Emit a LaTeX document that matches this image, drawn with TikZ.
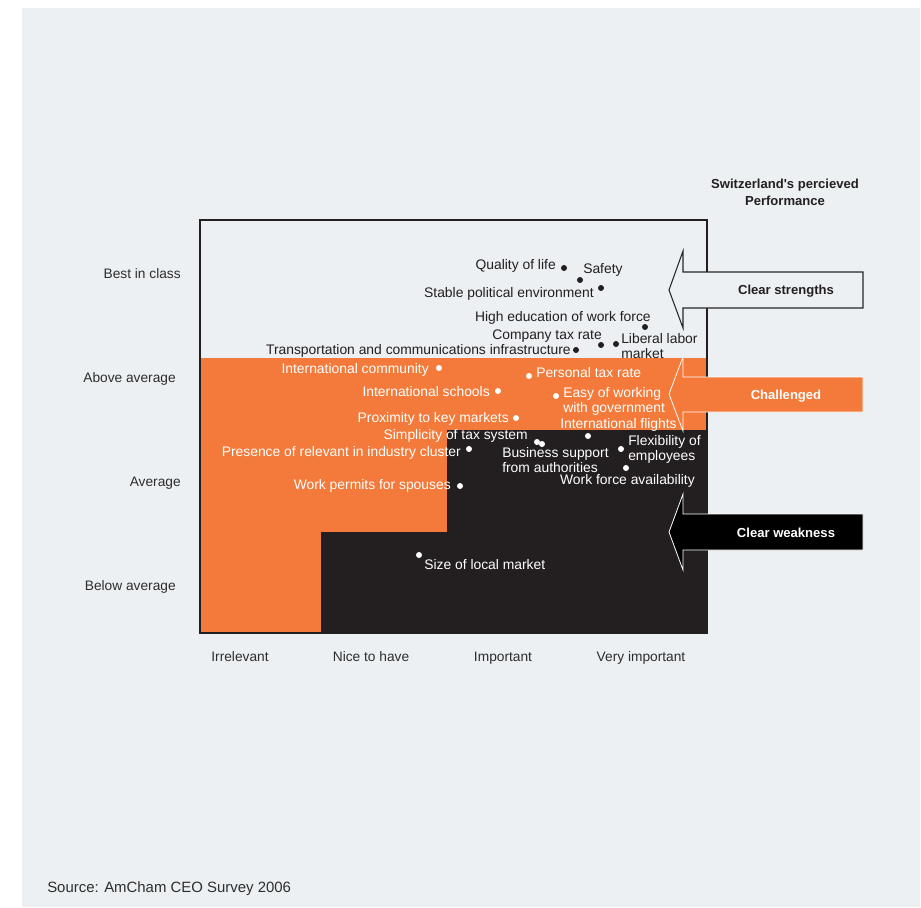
\documentclass[tikz,border=0pt]{standalone}
\usepackage{fontspec}
\setmainfont{Liberation Sans}[Ligatures=TeXOff]
\usetikzlibrary{positioning}
\definecolor{panelbg}{RGB}{236,240,243}
\definecolor{chorange}{RGB}{243,122,58}
\definecolor{chdark}{RGB}{35,31,32}
\definecolor{txtgray}{RGB}{45,45,45}

\begin{document}
\begin{tikzpicture}[
    x=0.75pt, y=-0.75pt,
    lbl/.style={inner sep=0pt, font=\fontsize{10.4}{10.9}\selectfont, text=chdark, align=left},
    wlbl/.style={lbl, text=white},
    darkdot/.style={circle, fill=chdark, inner sep=0pt, minimum size=4.5pt},
    whitedot/.style={circle, fill=white, inner sep=0pt, minimum size=4.5pt},
    axislbl/.style={inner sep=0pt, font=\fontsize{10.3}{12}\selectfont, text=txtgray},
    arrowlbl/.style={inner sep=0pt, font=\fontsize{9.8}{12.75}\selectfont\bfseries, align=center}
  ]
  % Page and panel
  \useasboundingbox (0,0) rectangle (921,907);
  \fill[white] (0,0) rectangle (921,907);
  \fill[panelbg] (22,8) rectangle (920,907);

  % Zones of the matrix
  \fill[chorange] (200,358) -- (707,358) -- (707,430) -- (447,430) -- (447,532)
    -- (321,532) -- (321,633) -- (200,633) -- cycle;
  \fill[chdark] (447,430) -- (707,430) -- (707,633) -- (321,633) -- (321,532)
    -- (447,532) -- cycle;
  \draw[chdark, line width=0.8pt] (200,220) rectangle (707,633);

  % Performance arrows
  \filldraw[fill=panelbg, draw=black!85, line width=0.8pt] (669,290) -- (683,251) -- (683,272)
    -- (863,272) -- (863,308) -- (683,308) -- (683,328) -- cycle;
  \filldraw[fill=chorange, draw=white, line width=0.6pt] (669,394) -- (683,357) -- (683,377)
    -- (863,377) -- (863,412) -- (683,412) -- (683,431) -- cycle;
  \filldraw[fill=black, draw=white, line width=0.6pt] (669,532) -- (683,494) -- (683,514)
    -- (863,514) -- (863,550) -- (683,550) -- (683,570) -- cycle;
  \node[arrowlbl, text=chdark] (strengths) at (786,291) {Clear strengths};
  \node[arrowlbl, text=white] (challenged) at (786,396) {Challenged};
  \node[arrowlbl, text=white] (weakness) at (786,533) {Clear weakness};
  \node[arrowlbl, text=chdark] (perftitle) at (785,192) {Switzerland's percieved\\Performance};

  % Axis labels
  \node[axislbl, anchor=base east] (best) at (181,278) {Best in class};
  \node[axislbl, anchor=base east] (above) at (176,382) {Above average};
  \node[axislbl, anchor=base east] (average) at (181,486) {Average};
  \node[axislbl, anchor=base east] (below) at (176,590) {Below average};
  \node[axislbl, anchor=base] (irrelevant) at (240,661) {Irrelevant};
  \node[axislbl, anchor=base] (nice) at (371,661) {Nice to have};
  \node[axislbl, anchor=base] (important) at (503,661) {Important};
  \node[axislbl, anchor=base] (veryimp) at (641,661) {Very important};

  % Clear strengths
  \node[darkdot] (quality) at (564,268) {};
  \node[lbl, anchor=base east] (qualitylbl) at (556,269.5) {Quality of life};
  \node[darkdot] (safety) at (580,280) {};
  \node[lbl, anchor=base west] (safetylbl) at (583,273.5) {Safety};
  \node[darkdot] (stable) at (601,288) {};
  \node[lbl, anchor=base east] (stablelbl) at (594,297) {Stable political environment};
  \node[darkdot] (education) at (645,327) {};
  \node[lbl, anchor=base east] (educationlbl) at (651,321.5) {High education of work force};
  \node[darkdot] (corptax) at (601,345) {};
  \node[lbl, anchor=base east] (corptaxlbl) at (602,339.5) {Company tax rate};
  \node[darkdot] (labor) at (616,344) {};
  \node[lbl, anchor=base west] (laborlbl) at (621,358.5) {Liberal labor\\market};
  \node[darkdot] (transport) at (576,350) {};
  \node[lbl, anchor=base east] (transportlbl) at (571,354.5) {Transportation and communications infrastructure};

  % Challenged
  \node[whitedot] (community) at (439,368) {};
  \node[wlbl, anchor=base east] (communitylbl) at (429,373.5) {International community};
  \node[whitedot] (perstax) at (529,376) {};
  \node[wlbl, anchor=base west] (perstaxlbl) at (536,377) {Personal tax rate};
  \node[whitedot] (schools) at (498,391) {};
  \node[wlbl, anchor=base east] (schoolslbl) at (490,396) {International schools};
  \node[whitedot] (govt) at (556,396) {};
  \node[wlbl, anchor=base west] (govtlbl) at (563,412) {Easy of working\\with government};
  \node[whitedot] (proximity) at (516,418) {};
  \node[wlbl, anchor=base east] (proximitylbl) at (509,422) {Proximity to key markets};
  \node[whitedot] (flights) at (588,436) {};
  \node[wlbl, anchor=base west] (flightslbl) at (560,428.5) {International flights};
  \node[whitedot] (simplicity) at (537,442) {};
  \node[wlbl, anchor=base east] (simplicitylbl) at (528,439) {Simplicity of tax system};
  \node[whitedot] (support) at (542,444) {};
  \node[wlbl, anchor=base west] (supportlbl) at (502,472) {Business support\\from authorities};
  \node[whitedot] (cluster) at (469,449) {};
  \node[wlbl, anchor=base east] (clusterlbl) at (461,456.5) {Presence of relevant in industry cluster};
  \node[whitedot] (flexibility) at (621,449) {};
  \node[wlbl, anchor=base west] (flexibilitylbl) at (628,460.5) {Flexibility of\\employees};
  \node[whitedot] (workforce) at (626,468) {};
  \node[wlbl, anchor=base east] (workforcelbl) at (695,484.5) {Work force availability};
  \node[whitedot] (permits) at (460,486) {};
  \node[wlbl, anchor=base east] (permitslbl) at (451,489.5) {Work permits for spouses};

  % Clear weakness
  \node[whitedot] (localmkt) at (419,555) {};
  \node[wlbl, anchor=base west] (localmktlbl) at (424,569.5) {Size of local market};

  % Source
  \node[inner sep=0pt, anchor=base west, font=\fontsize{11.2}{13}\selectfont, text=txtgray] (source) at (47,892) {Source: AmCham CEO Survey 2006};
\end{tikzpicture}
\end{document}
